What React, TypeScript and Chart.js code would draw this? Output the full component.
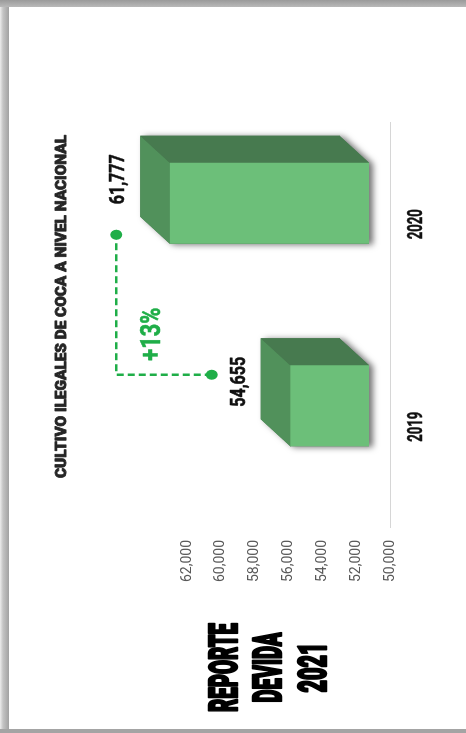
import React, { useEffect, useRef } from "react";
import { Chart, registerables } from "chart.js";

Chart.register(...registerables);

// ---- data ----
const categories = ["2019", "2020"];
const values = [54655, 61777];
const axisMin = 50000;
const axisMax = 62000;
const axisStep = 2000;
const title = "CULTIVO ILEGALES DE COCA A NIVEL NACIONAL";
const changeLabel = "+13%";
const brandLines = ["REPORTE", "DEVIDA", "2021"];

// ---- style ----
const FRONT = "#6cbf79";
const TOPF = "#51915b";
const SIDE = "#477a4f";
const GREEN = "#1fae48";
const NARROW = "'Liberation Sans Narrow', Roboto, 'DejaVu Sans', sans-serif";
const DX = 21; // 3D projection shift of the front face
const DY = -21;
const DEPTH_X = 27;
const DEPTH_Y = -29.5;

function fitText(
  ctx: CanvasRenderingContext2D,
  text: string,
  x: number,
  y: number,
  font: string,
  width: number,
  align: CanvasTextAlign,
  color: string,
  stroke = 0
) {
  ctx.save();
  ctx.font = font;
  const m = ctx.measureText(text).width || 1;
  const s = width / m;
  ctx.translate(x, y);
  ctx.scale(s, 1);
  ctx.textAlign = align;
  ctx.textBaseline = "alphabetic";
  ctx.fillStyle = color;
  ctx.fillText(text, 0, 0);
  if (stroke) {
    ctx.strokeStyle = color;
    ctx.lineWidth = stroke;
    ctx.lineJoin = "round";
    ctx.strokeText(text, 0, 0);
  }
  ctx.restore();
}

const boxPlugin = {
  id: "box3d",
  afterDatasetsDraw(chart: any) {
    const ctx: CanvasRenderingContext2D = chart.ctx;
    const meta = chart.getDatasetMeta(0);
    const tops: { cx: number; T: number }[] = [];
    meta.data.forEach((el: any) => {
      const p = el.getProps(["x", "y", "base", "width"], true);
      const L = p.x - p.width / 2 + DX;
      const R = p.x + p.width / 2 + DX;
      const T = p.y + DY;
      const B = p.base + DY;
      tops.push({ cx: (L + R) / 2, T });
      // shadow silhouette
      ctx.save();
      ctx.shadowColor = "rgba(0,0,0,0.55)";
      ctx.shadowBlur = 6;
      ctx.shadowOffsetY = 4;
      ctx.shadowOffsetX = -1;
      ctx.fillStyle = SIDE;
      ctx.beginPath();
      ctx.moveTo(L, B);
      ctx.lineTo(L, T);
      ctx.lineTo(L + DEPTH_X, T + DEPTH_Y);
      ctx.lineTo(R + DEPTH_X, T + DEPTH_Y);
      ctx.lineTo(R + DEPTH_X, B + DEPTH_Y);
      ctx.lineTo(R, B);
      ctx.closePath();
      ctx.fill();
      ctx.restore();
      // top face
      ctx.fillStyle = TOPF;
      ctx.beginPath();
      ctx.moveTo(L, T);
      ctx.lineTo(L + DEPTH_X, T + DEPTH_Y);
      ctx.lineTo(R + DEPTH_X, T + DEPTH_Y);
      ctx.lineTo(R, T);
      ctx.closePath();
      ctx.fill();
      // side face
      ctx.fillStyle = SIDE;
      ctx.beginPath();
      ctx.moveTo(R, T);
      ctx.lineTo(R + DEPTH_X, T + DEPTH_Y);
      ctx.lineTo(R + DEPTH_X, B + DEPTH_Y);
      ctx.lineTo(R, B);
      ctx.closePath();
      ctx.fill();
      // front face
      ctx.fillStyle = FRONT;
      ctx.fillRect(L, T, R - L, B - T);
    });

    // value labels
    const labelBase: number[] = [];
    tops.forEach((t, i) => {
      const by = t.T + DEPTH_Y - 16;
      labelBase.push(by);
      const txt = values[i].toLocaleString("en-US");
      fitText(ctx, txt, t.cx + 24, by, "700 21px Roboto", 50, "center", "#111111", 0.6);
    });

    // change annotation
    if (tops.length === 2) {
      const d1 = { x: tops[0].cx + 31, y: labelBase[0] - 33 };
      const d2 = { x: tops[1].cx - 31.5, y: labelBase[1] - 8 };
      ctx.save();
      ctx.strokeStyle = GREEN;
      ctx.lineWidth = 2.5;
      ctx.setLineDash([7, 4]);
      ctx.beginPath();
      ctx.moveTo(d1.x, d1.y);
      ctx.lineTo(d1.x, d2.y);
      ctx.lineTo(d2.x, d2.y);
      ctx.stroke();
      ctx.setLineDash([]);
      ctx.fillStyle = GREEN;
      [d1, d2].forEach((d) => {
        ctx.beginPath();
        ctx.ellipse(d.x, d.y, 5, 6, 0, 0, Math.PI * 2);
        ctx.fill();
      });
      ctx.restore();
      fitText(ctx, changeLabel, d1.x + 14, d2.y + 44, "700 28px Roboto", 53, "left", GREEN, 0.6);
    }
  },
  afterDraw(chart: any) {
    const ctx: CanvasRenderingContext2D = chart.ctx;
    const xs = chart.scales.x;
    const area = chart.chartArea;
    // category labels
    categories.forEach((c, i) => {
      const px = xs.getPixelForTick(i);
      fitText(ctx, c, px, area.bottom + 32, "700 20px Roboto", 30, "center", "#111111", 0.5);
    });
    // title
    fitText(ctx, title, 426.5, 66, "900 15.5px Roboto", 343, "center", "#262626", 0.8);
    // brand block
    const widths = [89, 70, 50];
    const bases = [237, 281, 326];
    brandLines.forEach((t, i) => {
      fitText(ctx, t, 65.5, bases[i], "900 38.5px Roboto", widths[i], "center", "#000000", 2.5);
    });
  },
};

export default function App() {
  const ref = useRef<HTMLCanvasElement | null>(null);
  useEffect(() => {
    if (!ref.current) return;
    const chart = new Chart(ref.current, {
      type: "bar",
      data: {
        labels: categories,
        datasets: [
          {
            data: values,
            base: axisMin,
            backgroundColor: "rgba(0,0,0,0)",
            borderWidth: 0,
            barPercentage: 0.4,
            categoryPercentage: 1,
          },
        ],
      },
      options: {
        responsive: false,
        animation: false,
        locale: "en-US",
        layout: { padding: { top: 187, right: 123, bottom: 76, left: 0 } },
        plugins: {
          legend: { display: false },
          tooltip: { enabled: false },
          title: { display: false },
        },
        scales: {
          x: {
            grid: { display: false, drawTicks: false },
            border: { display: true, color: "#d6d6d6", width: 1 },
            ticks: { display: false },
            afterFit: (s: any) => {
              s.height = 0;
            },
          },
          y: {
            min: axisMin,
            max: axisMax,
            grid: { display: false, drawTicks: false },
            border: { display: false },
            ticks: {
              stepSize: axisStep,
              padding: 12,
              color: "#595959",
              font: { family: NARROW, size: 14 },
            },
            afterFit: (s: any) => {
              s.width = 205;
            },
          },
        },
      } as any,
      plugins: [boxPlugin],
    });
    return () => chart.destroy();
  }, []);

  return (
    <div
      style={{
        position: "fixed",
        left: 0,
        top: 0,
        width: 466,
        height: 733,
        background: "#a4a4a4",
        overflow: "hidden",
      }}
    >
      <div
        style={{
          position: "absolute",
          left: 0,
          top: 0,
          width: 466,
          height: 7,
          background: "linear-gradient(to bottom, #9a9a9a, #b9b9b9)",
        }}
      />
      <div
        style={{
          position: "absolute",
          left: 0,
          top: 7,
          width: 9,
          height: 722,
          background: "linear-gradient(to right, #ededed 0px, #c4c4c4 3px, #a2a2a2 9px)",
        }}
      />
      <div
        style={{
          position: "absolute",
          left: 9,
          top: 7,
          width: 457,
          height: 722,
          background: "#ffffff",
        }}
      />
      <canvas
        ref={ref}
        width={733}
        height={466}
        style={{
          position: "absolute",
          left: 0,
          top: 733,
          width: 733,
          height: 466,
          transformOrigin: "0 0",
          transform: "rotate(-90deg)",
        }}
      />
    </div>
  );
}
